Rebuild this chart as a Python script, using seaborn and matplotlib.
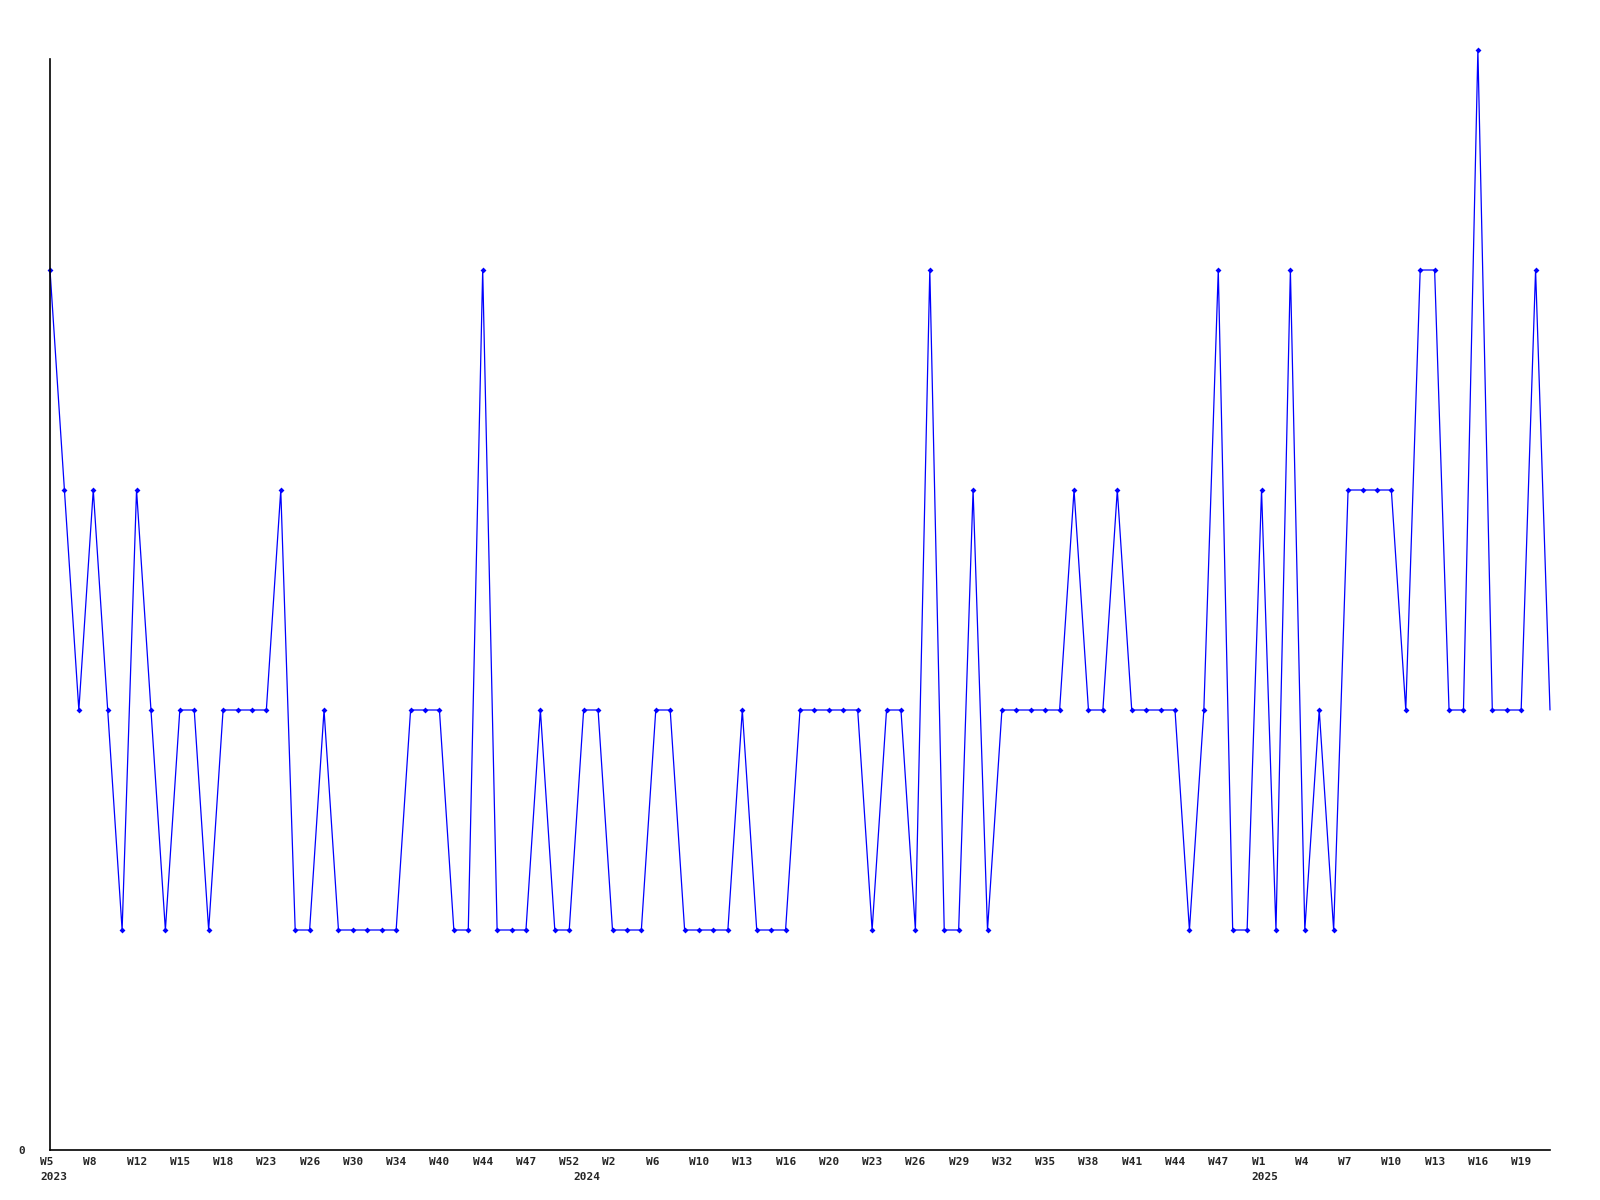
import matplotlib
matplotlib.use('Agg')
import matplotlib.pyplot as plt
import seaborn as sns
import pandas as pd
from matplotlib.transforms import ScaledTranslation

# weekly values, one point per week (105 weeks)
valores = [
    4, 3, 2, 3, 2, 1, 3, 2, 1, 2, 2, 1, 2, 2, 2, 2, 3, 1, 1, 2,
    1, 1, 1, 1, 1, 2, 2, 2, 1, 1, 4, 1, 1, 1, 2, 1, 1, 2, 2, 1,
    1, 1, 2, 2, 1, 1, 1, 1, 2, 1, 1, 1, 2, 2, 2, 2, 2, 1, 2, 2,
    1, 4, 1, 1, 3, 1, 2, 2, 2, 2, 2, 3, 2, 2, 3, 2, 2, 2, 2, 1,
    2, 4, 1, 1, 3, 1, 4, 1, 2, 1, 3, 3, 3, 3, 2, 4, 4, 2, 2, 5,
    2, 2, 2, 4, 2,
]

# labelled weeks (every third point)
semanas = ['W5', 'W8', 'W12', 'W15', 'W18', 'W23', 'W26', 'W30', 'W34', 'W40',
           'W44', 'W47', 'W52', 'W2', 'W6', 'W10', 'W13', 'W16', 'W20', 'W23',
           'W26', 'W29', 'W32', 'W35', 'W38', 'W41', 'W44', 'W47', 'W1', 'W4',
           'W7', 'W10', 'W13', 'W16', 'W19']
anios = ['2023', '2024', '2025']
anios_pos = [0, 37, 84]

df = pd.DataFrame({'idx': range(len(valores)), 'valor': valores})

sns.set_style('white')
plt.rcParams['font.family'] = ['DejaVu Sans Mono']

fig = plt.figure(figsize=(16, 12), dpi=100)
ax = fig.add_axes([50 / 1600, 50 / 1200, 1500 / 1600, 1100 / 1200])

sns.lineplot(data=df, x='idx', y='valor', ax=ax, color='#0000ff', linewidth=0.9,
             marker='D', markersize=3, markeredgewidth=0,
             markevery=list(range(len(valores) - 1)), clip_on=False)

ax.set_xlim(0, len(valores) - 1)
ax.set_ylim(0, 5)
ax.set_xlabel('')
ax.set_ylabel('')

for s in ['top', 'right']:
    ax.spines[s].set_visible(False)
for s in ['left', 'bottom']:
    ax.spines[s].set_color('black')
    ax.spines[s].set_linewidth(1.2)
ax.spines['left'].set_bounds(0, 4.96)

# y axis: only a 0 label
ax.set_yticks([0])
ax.set_yticklabels(['0'], fontsize=8, fontweight='bold')
ax.tick_params(axis='y', length=0, pad=18)

# x axis: week labels, left aligned just before the point
ax.set_xticks(range(0, 3 * len(semanas), 3))
ax.set_xticklabels(semanas, fontsize=8, fontweight='bold')
ax.tick_params(axis='x', length=0, pad=5)
desplaza = ScaledTranslation(-10 / 100, 0, fig.dpi_scale_trans)
for lbl in ax.get_xticklabels():
    lbl.set_horizontalalignment('left')
    lbl.set_transform(lbl.get_transform() + desplaza)

# year labels under the first week of each year
for anio, pos in zip(anios, anios_pos):
    ax.annotate(anio, xy=(pos, 0), xycoords=('data', 'axes fraction'),
                xytext=(-10, -22), textcoords='offset pixels',
                ha='left', va='top', fontsize=8, fontweight='bold')

ax.grid(False)
fig.savefig('out.png', dpi=100)
